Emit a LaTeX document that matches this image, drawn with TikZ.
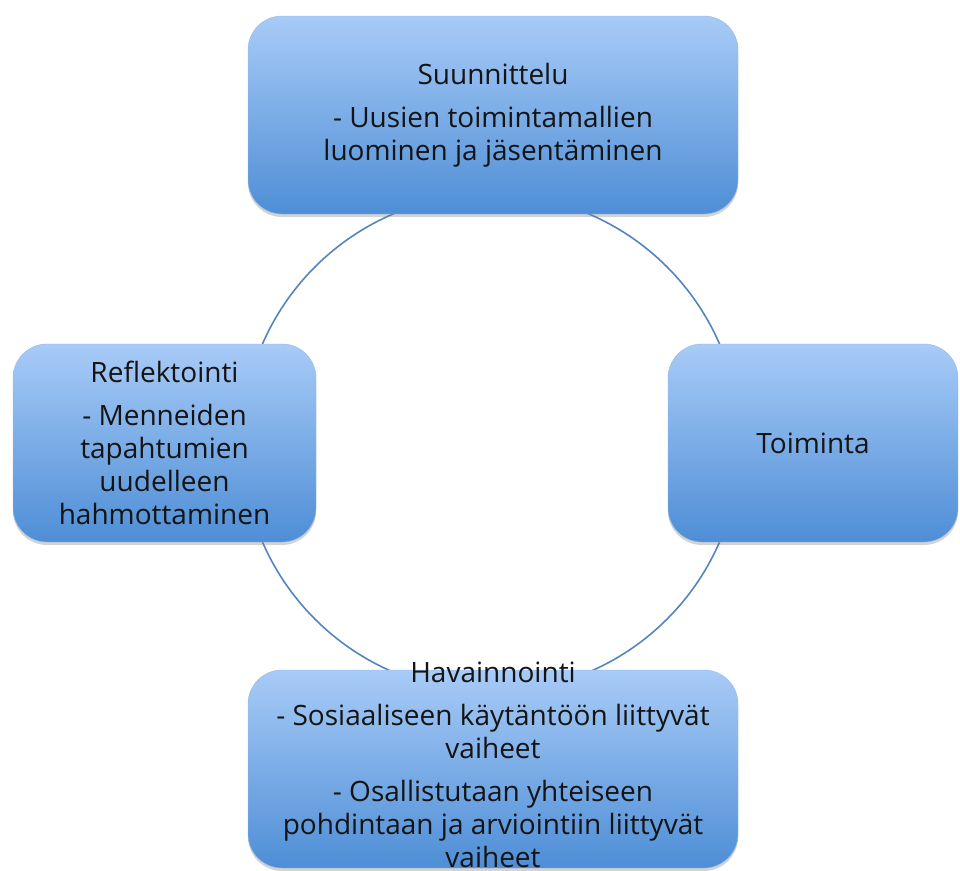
\documentclass[tikz,border=0pt]{standalone}
\usepackage{fontspec}
\setmainfont{Open Sans}
\usetikzlibrary{shadows, positioning}
\definecolor{boxtop}{RGB}{168,203,247}
\definecolor{boxbot}{RGB}{78,142,214}
\definecolor{boxline}{RGB}{150,185,230}
\definecolor{ringblue}{RGB}{84,132,192}
\definecolor{inktext}{RGB}{20,20,20}

\begin{document}
\begin{tikzpicture}[
        x=1pt, y=-1pt,
        phase/.style={rectangle, rounded corners=34pt, draw=boxline, thin,
            top color=boxtop, bottom color=boxbot, minimum height=198pt,
            drop shadow={shadow xshift=0pt, shadow yshift=-3pt, opacity=0.35}},
        phasetext/.style={align=center, text=inktext, inner sep=0pt,
            font=\fontsize{28}{33}\selectfont},
        ring/.style={draw=ringblue, line width=1.6pt}
    ]
        \useasboundingbox (0,0) rectangle (960,870);

        % Circle behind the boxes
        \coordinate (ringc) at (491,443);
        \draw[ring] (ringc) circle [radius=249pt];

        % Planning
        \node[phase, minimum width=490pt] (suunn) at (493,115) {};
        \node[phasetext] at (suunn) {Suunnittelu\\[10pt]- Uusien toimintamallien\\luominen ja jäsentäminen};

        % Action
        \node[phase, minimum width=290pt] (toim) at (813,443) {};
        \node[phasetext] at (toim) {Toiminta};

        % Observation
        \node[phase, minimum width=490pt] (havain) at (493,769) {};
        \node[phasetext] at ([yshift=4pt]havain.center) {Havainnointi\\[10pt]- Sosiaaliseen käytäntöön liittyvät\\vaiheet\\[10pt]- Osallistutaan yhteiseen\\pohdintaan ja arviointiin liittyvät\\vaiheet};

        % Reflection
        \node[phase, minimum width=303pt] (refl) at (164.5,443) {};
        \node[phasetext] at (refl) {Reflektointi\\[10pt]- Menneiden\\tapahtumien\\uudelleen\\hahmottaminen};
    \end{tikzpicture}
\end{document}
